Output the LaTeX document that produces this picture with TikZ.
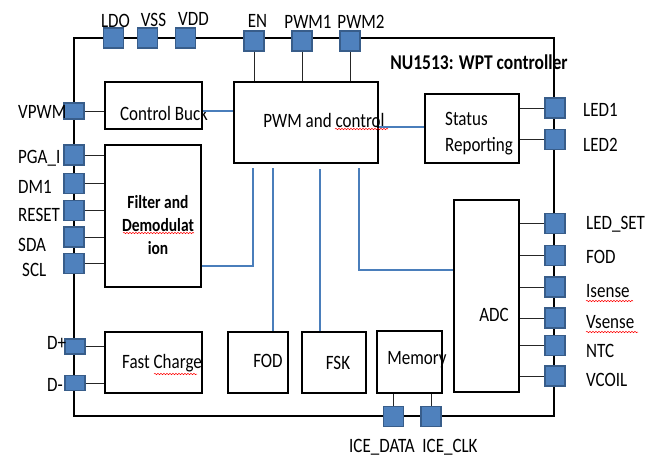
\documentclass[tikz,border=0pt]{standalone}
\usepackage{fontspec}
\setmainfont{Carlito}
\usepackage{graphicx}
\usetikzlibrary{decorations.pathmorphing}
\definecolor{pinblue}{HTML}{4F81BD}
\definecolor{pinedge}{HTML}{385D8A}
\definecolor{linkblue}{HTML}{4A7EBB}
\newcommand\vs[1]{\scalebox{1}[1.2]{#1}}
\begin{document}
\begin{tikzpicture}[x=1pt,y=-1pt,
  blk/.style={draw, line width=2pt, inner sep=0},
  pinsq/.style={draw=pinedge, fill=pinblue, line width=1.2pt, minimum width=20pt, minimum height=20pt, inner sep=0},
  txt/.style={inner sep=0, font=\fontsize{17}{20}\selectfont},
  btxt/.style={inner sep=0, font=\fontsize{15.5}{18}\selectfont\bfseries},
  wire/.style={draw=black!85, line width=0.8pt},
  blueline/.style={draw=linkblue, line width=1.8pt},
  squig/.style={draw=red, line width=0.5pt, decorate, decoration={snake, segment length=3pt, amplitude=0.7pt}}]
\useasboundingbox (0,0) rectangle (657,456);
\fill[white] (0,0) rectangle (657,456);

% outer frame
\node[draw, line width=2.5pt, minimum width=480pt, minimum height=378pt, inner sep=0] (frame) at (314,227) {};
\node[txt, font=\fontsize{17.5}{20}\selectfont\bfseries] (title) at (479,62) {\vs{NU1513: WPT controller}};

% blocks
\node[blk, minimum width=97pt, minimum height=47pt] (cb) at (153.5,105.5) {};
\node[blk, minimum width=144pt, minimum height=81pt] (pwm) at (306,122.5) {};
\node[blk, minimum width=94pt, minimum height=69pt] (st) at (472,128.5) {};
\node[blk, minimum width=96pt, minimum height=142pt] (flt) at (153,216) {};
\node[blk, minimum width=97pt, minimum height=61pt] (fc) at (153.5,362.5) {};
\node[blk, minimum width=60pt, minimum height=61pt] (fod) at (258,362.5) {};
\node[blk, minimum width=64pt, minimum height=61pt] (fsk) at (334,362.5) {};
\node[blk, minimum width=65pt, minimum height=62pt] (mem) at (409.5,362) {};
\node[blk, minimum width=65pt, minimum height=192pt] (adc) at (486.5,296) {};

% block texts
\node[txt] (tcb) at (164,113) {\vs{Control Buck}};
\node[txt] (tpwm) at (324,120) {\vs{PWM and control}};
\node[txt, anchor=west] (tst1) at (445,119) {\vs{Status}};
\node[txt, anchor=west] (tst2) at (445,146) {\vs{Reporting}};
\node[btxt] (tf1) at (158,202) {\vs{Filter and}};
\node[btxt] (tf2) at (158,225) {\vs{Demodulat}};
\node[btxt] (tf3) at (158,248) {\vs{ion}};
\node[txt] (tfc) at (162,363) {\vs{Fast Charge}};
\node[txt] (tfod) at (268,361) {\vs{FOD}};
\node[txt] (tfsk) at (338,363) {\vs{FSK}};
\node[txt] (tmem) at (417,360) {\vs{Memory}};
\node[txt] (tadc) at (494,315) {\vs{ADC}};

% spell-check squiggles
\coordinate (q1a) at (335,129); \coordinate (q1b) at (388,129);
\coordinate (q2a) at (123,233); \coordinate (q2b) at (194,233);
\coordinate (q3a) at (154,374); \coordinate (q3b) at (197,374);
\coordinate (q4a) at (586,301); \coordinate (q4b) at (633,301);
\coordinate (q5a) at (586,332); \coordinate (q5b) at (638,332);
\draw[squig] (q1a) -- (q1b);
\draw[squig] (q2a) -- (q2b);
\draw[squig] (q3a) -- (q3b);
\draw[squig] (q4a) -- (q4b);
\draw[squig] (q5a) -- (q5b);

% pins top
\node[pinsq] (pLDO) at (113.5,38) {};
\node[pinsq] (pVSS) at (147.5,38) {};
\node[pinsq] (pVDD) at (185.5,38) {};
\node[pinsq] (pEN) at (254,41) {};
\node[pinsq] (pPWM1) at (302,41) {};
\node[pinsq] (pPWM2) at (350,41) {};
% pins left
\node[pinsq, minimum height=16pt] (pVPWM) at (74,111) {};
\node[pinsq] (pPGA) at (74,155) {};
\node[pinsq] (pDM1) at (74,183.5) {};
\node[pinsq] (pRST) at (74,210.5) {};
\node[pinsq] (pSDA) at (74,237) {};
\node[pinsq] (pSCL) at (74,263.5) {};
\node[pinsq, minimum height=15pt] (pDP) at (75,346.5) {};
\node[pinsq, minimum height=15pt] (pDM) at (75,383) {};
% pins right
\node[pinsq] (pLED1) at (555,108) {};
\node[pinsq] (pLED2) at (555,139.5) {};
\node[pinsq] (pLSET) at (555,223.5) {};
\node[pinsq] (pFOD) at (555,255.5) {};
\node[pinsq] (pIS) at (555,287) {};
\node[pinsq] (pVS) at (555,318) {};
\node[pinsq] (pNTC) at (555,345.5) {};
\node[pinsq] (pVC) at (555,376) {};
% pins bottom
\node[pinsq] (pICED) at (393.5,416.5) {};
\node[pinsq] (pICEC) at (431,416.5) {};

% pin labels
\node[txt] (lLDO) at (115.5,21) {\vs{LDO}};
\node[txt] (lVSS) at (153.5,20) {\vs{VSS}};
\node[txt] (lVDD) at (193.5,19) {\vs{VDD}};
\node[txt] (lEN) at (257.5,21) {\vs{EN}};
\node[txt] (lPWM1) at (308,22) {\vs{PWM1}};
\node[txt] (lPWM2) at (361,22) {\vs{PWM2}};
\node[txt, anchor=west] (lVPWM) at (18,112) {\vs{VPWM}};
\node[txt, anchor=west] (lPGA) at (18,158) {\vs{PGA\_I}};
\node[txt, anchor=west] (lDM1) at (18,187) {\vs{DM1}};
\node[txt, anchor=west] (lRST) at (18,215) {\vs{RESET}};
\node[txt, anchor=west] (lSDA) at (18,245) {\vs{SDA}};
\node[txt, anchor=west] (lSCL) at (22,270) {\vs{SCL}};
\node[txt, anchor=west] (lDP) at (47,343) {\vs{D+}};
\node[txt, anchor=west] (lDM) at (47,385) {\vs{D-}};
\node[txt, anchor=west] (lLED1) at (583,110) {\vs{LED1}};
\node[txt, anchor=west] (lLED2) at (583,145) {\vs{LED2}};
\node[txt, anchor=west] (lLSET) at (586,224) {\vs{LED\_SET}};
\node[txt, anchor=west] (lFOD) at (586,257) {\vs{FOD}};
\node[txt, anchor=west] (lIS) at (586,291) {\vs{Isense}};
\node[txt, anchor=west] (lVS) at (586,322) {\vs{Vsense}};
\node[txt, anchor=west] (lNTC) at (586,351) {\vs{NTC}};
\node[txt, anchor=west] (lVC) at (586,380) {\vs{VCOIL}};
\node[txt] (lICED) at (382,447) {\vs{ICE\_DATA}};
\node[txt] (lICEC) at (450,447) {\vs{ICE\_CLK}};

% thin wires
\draw[wire] (pEN.south) -- (pEN.south |- pwm.north);
\draw[wire] (pPWM1.south) -- (pPWM1.south |- pwm.north);
\draw[wire] (pPWM2.south) -- (pPWM2.south |- pwm.north);
\draw[wire] (pVPWM.east) -- (pVPWM.east -| cb.west);
\foreach \p in {pPGA,pDM1,pRST,pSDA,pSCL}
  \draw[wire] (\p.east) -- (\p.east -| flt.west);
\draw[wire] (pDP.east) -- (pDP.east -| fc.west);
\draw[wire] (pDM.east) -- (pDM.east -| fc.west);
\draw[wire] (pLED1.west) -- (pLED1.west -| st.east);
\draw[wire] (pLED2.west) -- (pLED2.west -| st.east);
\foreach \p in {pLSET,pFOD,pIS,pVS,pNTC,pVC}
  \draw[wire] (\p.west) -- (\p.west -| adc.east);
\draw[wire] (pICED.north) -- (pICED.north |- mem.south);
\draw[wire] (pICEC.north) -- (pICEC.north |- mem.south);

% blue links
\draw[blueline] ([yshift=-5.5pt]cb.east) -- ([yshift=-5.5pt]cb.east -| pwm.west);
\draw[blueline] ([yshift=1.5pt]st.west) -- ([yshift=1.5pt]st.west -| pwm.east);
\draw[blueline] ([yshift=-50pt]flt.east) -| ([xshift=-53pt,yshift=-4pt]pwm.south);
\draw[blueline] ([xshift=15pt]fod.north) -- ([xshift=-33pt,yshift=-4pt]pwm.south);
\draw[blueline] ([xshift=-14pt]fsk.north) -- ([xshift=14pt,yshift=-5pt]pwm.south);
\draw[blueline] ([xshift=53pt,yshift=-4pt]pwm.south) |- ([yshift=26pt]adc.west);
\end{tikzpicture}
\end{document}
